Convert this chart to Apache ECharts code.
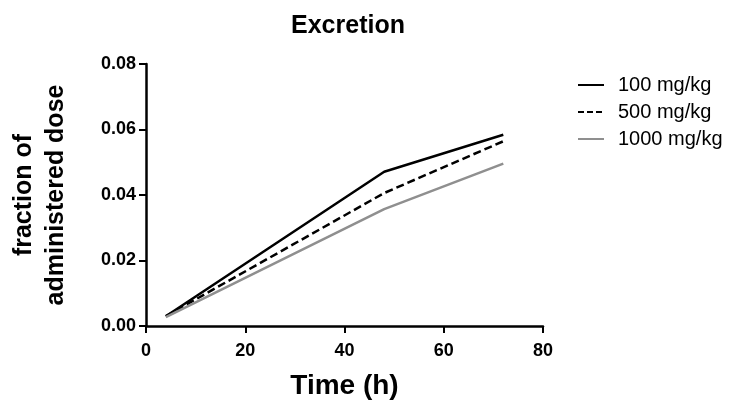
<!DOCTYPE html>
<html><head><meta charset="utf-8">
<script src="https://cdn.jsdelivr.net/npm/echarts@6/dist/echarts.min.js"></script>
<style>html,body{margin:0;padding:0;background:#fff}#c{width:731px;height:405px}</style>
</head><body><div id="c"></div>
<script>
const timeH = [4, 48, 72];
const dose100 = [0.003, 0.0471, 0.0584];
const dose500 = [0.003, 0.0406, 0.0564];
const dose1000 = [0.0027, 0.0357, 0.0496];
const seriesNames = ['100 mg/kg', '500 mg/kg', '1000 mg/kg'];
const xTicks = [0, 20, 40, 60, 80];
const yTicks = [0, 0.02, 0.04, 0.06, 0.08];

const F = 'Liberation Sans, Arial, sans-serif';
const chart = echarts.init(document.getElementById('c'));
const pairs = v => timeH.map((t, i) => [t, v[i]]);
chart.setOption({
  animation: false,
  title: { text: 'Excretion', left: 343, top: 9, textAlign: 'center',
    textStyle: { fontFamily: F, fontWeight: 'bold', fontSize: 25, color: '#000' } },
  grid: { left: 145, right: 188, top: 64, bottom: 76 },
  legend: { orient: 'vertical', left: 572, top: 70, itemWidth: 26, itemHeight: 14, itemGap: 7,
    itemStyle: { opacity: 0 },
    textStyle: { fontFamily: F, fontSize: 20, color: '#000', padding: [0, 0, 0, 9] },
    data: [
      { name: seriesNames[0] },
      { name: seriesNames[1], lineStyle: { type: [6, 3] } },
      { name: seriesNames[2] }
    ] },
  xAxis: { type: 'value', min: 0, max: 80, interval: 20,
    name: 'Time (h)', nameLocation: 'middle', nameGap: 46,
    nameTextStyle: { fontFamily: F, fontWeight: 'bold', fontSize: 28, color: '#000' },
    axisLine: { lineStyle: { color: '#000', width: 2.5 } },
    axisTick: { length: 7, lineStyle: { color: '#000', width: 2 } },
    axisLabel: { fontFamily: F, fontWeight: 'bold', fontSize: 18, color: '#000', margin: 16,
      formatter: v => xTicks.includes(v) ? String(v) : '' },
    splitLine: { show: false } },
  yAxis: { type: 'value', min: 0, max: 0.08, interval: 0.02,
    name: 'fraction of\nadministered dose', nameLocation: 'middle', nameGap: 74,
    nameTextStyle: { fontFamily: F, fontWeight: 'bold', fontSize: 25, color: '#000', lineHeight: 32 },
    axisLine: { show: true, lineStyle: { color: '#000', width: 2.5 } },
    axisTick: { show: true, length: 7, lineStyle: { color: '#000', width: 2 } },
    axisLabel: { fontFamily: F, fontWeight: 'bold', fontSize: 18, color: '#000', margin: 10,
      formatter: v => yTicks.some(t => Math.abs(t - v) < 1e-9) ? v.toFixed(2) : '' },
    splitLine: { show: false } },
  series: [
    { name: seriesNames[0], type: 'line', data: pairs(dose100), symbol: 'none',
      lineStyle: { color: '#000', width: 2.5 }, itemStyle: { color: '#000' } },
    { name: seriesNames[1], type: 'line', data: pairs(dose500), symbol: 'none',
      lineStyle: { color: '#000', width: 2.5, type: [8, 4] }, itemStyle: { color: '#000' } },
    { name: seriesNames[2], type: 'line', data: pairs(dose1000), symbol: 'none',
      lineStyle: { color: '#8f8f8f', width: 2.5 }, itemStyle: { color: '#8f8f8f' } }
  ]
});
</script></body></html>
